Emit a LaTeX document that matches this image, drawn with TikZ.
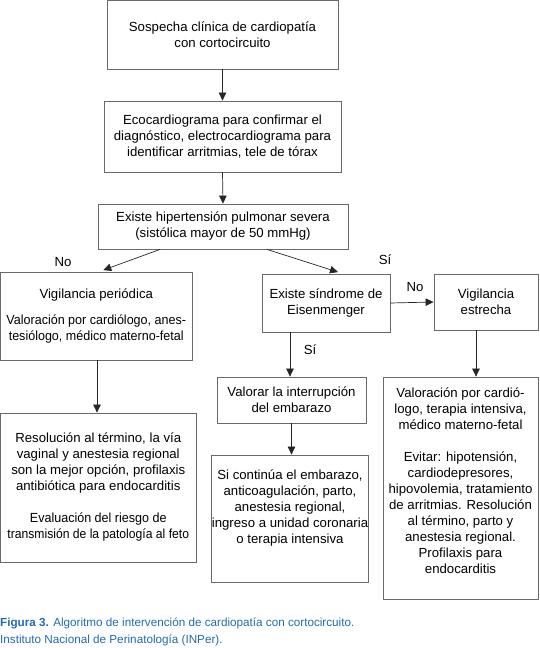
\documentclass[tikz,border=0pt]{standalone}
\usepackage{fontspec}
\setmainfont{Liberation Sans}
\newfontfamily\narrowsans[FakeStretch=0.95]{Liberation Sans}
\newfontfamily\narrowersans[FakeStretch=0.92]{Liberation Sans}
\usetikzlibrary{arrows.meta}
\definecolor{capblue}{RGB}{35,105,180}
\definecolor{boxgray}{RGB}{105,105,105}
\begin{document}
\begin{tikzpicture}[x=1pt,y=-1pt,
  box/.style={draw=boxgray, line width=0.8pt, align=center, inner sep=0pt,
    font=\fontsize{13.2}{16}\selectfont},
  arr/.style={-{Triangle[length=8pt,width=7.5pt]}, line width=0.7pt, draw=black!85},
  lab/.style={font=\fontsize{13.2}{16}\selectfont, inner sep=0pt},
  captxt/.style={font=\fontsize{11.7}{15}\selectfont, text=capblue, inner sep=0pt, anchor=west}]
\useasboundingbox (0,0) rectangle (540,648);

\node[box, minimum width=231pt, minimum height=68.5pt] (b1) at (222.5,34.7)
  {Sospecha clínica de cardiopatía\\con cortocircuito};
\node[box, minimum width=237pt, minimum height=71pt] (b2) at (222.5,136.5)
  {Ecocardiograma para confirmar el\\diagnóstico, electrocardiograma para\\identificar arritmias, tele de tórax};
\node[box, minimum width=250pt, minimum height=45pt] (b3) at (223,226.5)
  {Existe hipertensión pulmonar severa\\(sistólica mayor de 50 mmHg)};
\node[box, minimum width=191.5pt, minimum height=88pt] (vp) at (96.25,316)
  {Vigilancia periódica\\[10pt]{\narrowsans Valoración por cardiólogo, anes-}\\{\narrowsans tesiólogo, médico materno-fetal}};
\node[box, minimum width=128pt, minimum height=58pt] (eis) at (326,303)
  {Existe síndrome de\\Eisenmenger};
\node[box, minimum width=104pt, minimum height=56pt] (ve) at (486,302)
  {Vigilancia\\estrecha};
\node[box, minimum width=195.5pt, minimum height=149pt] (res) at (98.25,487.5)
  {Resolución al término, la vía\\vaginal y anestesia regional\\son la mejor opción, profilaxis\\antibiótica para endocarditis\\[16pt]{\narrowsans Evaluación del riesgo de}\\{\narrowersans transmisión de la patología al feto}};
\node[box, minimum width=149pt, minimum height=46pt] (val) at (291.5,400)
  {Valorar la interrupción\\del embarazo};
\node[box, minimum width=156pt, minimum height=127pt] (sic) at (290,518.5)
  {Si continúa el embarazo,\\anticoagulación, parto,\\anestesia regional,\\ingreso a unidad coronaria\\o terapia intensiva\\[8pt]\mbox{}};
\node[box, minimum width=155pt, minimum height=222pt] (rb) at (460.5,488)
  {Valoración por cardió-\\logo, terapia intensiva,\\médico materno-fetal\\[16pt]Evitar: hipotensión,\\cardiodepresores,\\hipovolemia, tratamiento\\de arritmias. Resolución\\al término, parto y\\anestesia regional.\\Profilaxis para\\endocarditis\\[-2pt]\mbox{}};

\draw[arr] (b1.south) -- (b2.north);
\draw[arr] (b2.south) -- (b3.north);
\draw[arr] ([xshift=-63pt]b3.south) -- ([xshift=7pt,yshift=1.5pt]vp.north);
\draw[arr] ([xshift=44pt]b3.south) -- ([xshift=12pt,yshift=1.5pt]eis.north);
\draw[arr] (eis.east) -- (ve.west);
\draw[arr] ([xshift=-36pt]eis.south) -- ([xshift=-1.5pt]val.north);
\draw[arr] ([xshift=-10pt]ve.south) -- ([xshift=15.5pt]rb.north);
\draw[arr] ([xshift=0.75pt]vp.south) -- ([xshift=-1.25pt]res.north);
\draw[arr] (val.south) -- ([xshift=1.5pt]sic.north);

\node[lab] (lno1) at (63,262) {No};
\node[lab] (lsi1) at (385,260) {Sí};
\node[lab] (lno2) at (415,287) {No};
\node[lab] (lsi2) at (310,350) {Sí};

\node[captxt] (cap1) at (0,623) {\textbf{Figura 3.} Algoritmo de intervención de cardiopatía con cortocircuito.};
\node[captxt] (cap2) at (0,640) {Instituto Nacional de Perinatología (INPer).};
\end{tikzpicture}
\end{document}
